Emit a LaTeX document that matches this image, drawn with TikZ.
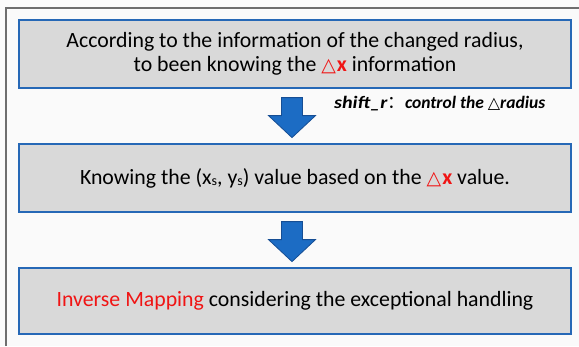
\documentclass[tikz,border=0pt]{standalone}
\usepackage{fontspec}
\setmainfont{Carlito}
\newfontfamily\symfont{DejaVu Sans}
\newfontfamily\cjkfont{Noto Sans CJK SC}
\usetikzlibrary{calc}
\definecolor{bgc}{RGB}{250,250,250}
\definecolor{framec}{RGB}{110,110,110}
\definecolor{boxfill}{RGB}{217,217,217}
\definecolor{boxline}{RGB}{38,104,182}
\definecolor{arrfill}{RGB}{28,108,196}
\definecolor{arrline}{RGB}{22,78,148}
\definecolor{txtred}{RGB}{240,20,20}
\newcommand{\dx}{{\color{txtred}{\symfont\fontsize{19}{19}\selectfont △}\kern1pt\textbf{x}}}
\tikzset{
  stepbox/.style={draw=boxline, line width=1.2pt, fill=boxfill, minimum width=552pt, inner sep=0pt, align=center, font=\fontsize{21.8}{24}\selectfont},
  blockarrow/.style={fill=arrfill, draw=arrline, line width=0.8pt, line join=miter},
}
\begin{document}
\begin{tikzpicture}[x=1pt,y=-1pt]
\useasboundingbox (0,0) rectangle (579,346);
\fill[bgc] (0,0) rectangle (579,346);
\draw[framec, line width=1.6pt] (5.8,346) -- (5.8,7.8) -- (579,7.8);
\node[stepbox, minimum height=68pt] (b1) at (295,54) {According to the information of the changed radius,\\to been knowing the \dx\ information};
\node[stepbox, minimum height=68pt] (b2) at (295,178) {Knowing the (x\raisebox{-1pt}{\fontsize{14}{14}\selectfont s}, y\raisebox{-1pt}{\fontsize{14}{14}\selectfont s}) value based on the \dx\ value.};
\node[stepbox, minimum height=66pt] (b3) at (295,301) {{\color{txtred}Inverse Mapping} considering the exceptional handling};
\coordinate (a1) at ($(b1.south)+(-3,9)$);
\coordinate (a2) at ($(b2.south)+(-3,9)$);
\foreach \a in {a1,a2}{
  \draw[blockarrow] (\a) ++(-10.5,0) -- ++(21,0) -- ++(0,18) -- ++(13,0) -- ++(-23.5,22) -- ++(-23.5,-22) -- ++(13,0) -- cycle;
}
\node[anchor=west, inner sep=0pt, font=\fontsize{17.5}{17.5}\selectfont\bfseries\itshape] (lab) at (334,104) {\scalebox{1.15}[1]{shift\_r}{\cjkfont\upshape\mdseries ：}control the {\symfont\mdseries\upshape\fontsize{16}{16}\selectfont △}radius};
\end{tikzpicture}
\end{document}
